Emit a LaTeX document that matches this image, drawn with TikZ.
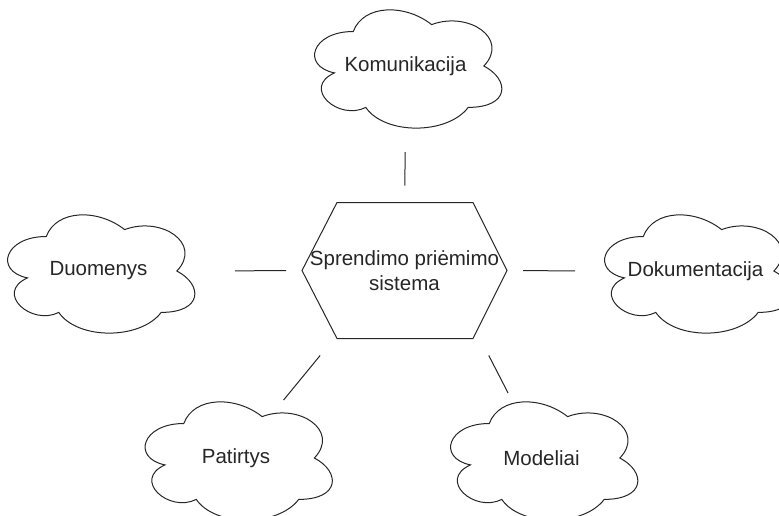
\documentclass[tikz,border=0pt]{standalone}
\usepackage{fontspec}
\setmainfont{Liberation Sans}
\usepackage{tikz}
\tikzset{inkline/.style={draw=black!85, line width=1pt}}
\tikzset{labelfont/.style={font=\fontsize{20.5}{24.5}\selectfont, text=black!85}}
\tikzset{cloudbox/.style={labelfont, minimum width=209pt, minimum height=138pt,
  inner sep=0pt, outer sep=0pt}}
\tikzset{hubbox/.style={labelfont, minimum width=205pt, minimum height=136pt,
  inner sep=0pt, outer sep=0pt, align=center}}
% cloud outline inside the box of a named node
\newcommand{\cloudaround}[1]{%
  \begin{scope}[shift={(#1.north west)}, x=209pt, y=-138pt]
  \draw[inkline] (0.25,0.25) .. controls (0.05,0.25) and (0,0.5) .. (0.16,0.55)
    .. controls (0,0.66) and (0.18,0.9) .. (0.31,0.8)
    .. controls (0.4,1) and (0.7,1) .. (0.8,0.8)
    .. controls (1,0.8) and (1,0.6) .. (0.875,0.5)
    .. controls (1,0.3) and (0.8,0.1) .. (0.625,0.2)
    .. controls (0.5,0.05) and (0.3,0.05) .. (0.25,0.25) -- cycle;
  \end{scope}}

\begin{document}
\begin{tikzpicture}[x=1pt,y=-1pt]
\clip (0,0) rectangle (779,515);
\node[hubbox] (hub) at (404.5,270.5) {Sprendimo priėmimo\\sistema};
\draw[inkline] (hub.west) -- ([xshift=35pt]hub.north west) -- ([xshift=-34pt]hub.north east)
  -- (hub.east) -- ([xshift=-34pt]hub.south east) -- ([xshift=35pt]hub.south west) -- cycle;
\node[cloudbox] (kom) at (405.5,66) {Komunikacija};
\node[cloudbox] (duo) at (98.5,271) {Duomenys};
\node[cloudbox] (dok) at (695.5,271) {Dokumentacija};
\node[cloudbox] (pat) at (236,458) {Patirtys};
\node[cloudbox] (mod) at (541.5,458) {Modeliai};
\foreach \c in {kom,duo,dok,pat,mod} {\cloudaround{\c}}
% short links with gaps on both ends
\draw[inkline, shorten <=17pt, shorten >=17pt] (hub.north) -- (kom.south);
\draw[inkline, shorten <=16pt, shorten >=32pt] (hub.west) -- (duo.east);
\draw[inkline, shorten <=16pt, shorten >=16pt] (hub.east) -- (dok.west);
\draw[inkline, shorten <=22pt, shorten >=75pt] (hub.224) -- (pat.center);
\draw[inkline, shorten <=19pt, shorten >=73pt] (hub.318.6) -- (mod.center);
\end{tikzpicture}
\end{document}
